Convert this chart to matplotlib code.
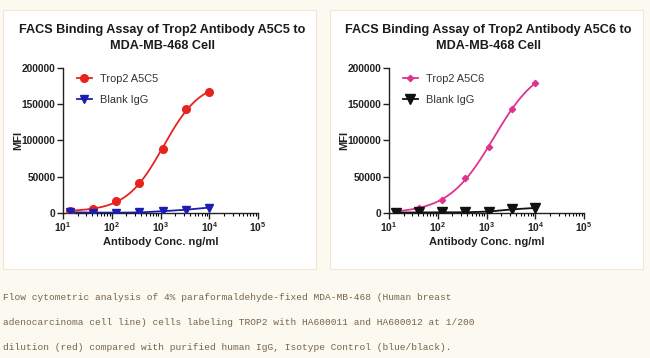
import numpy as np
import matplotlib
matplotlib.use("Agg")
import matplotlib.pyplot as plt
from matplotlib.patches import Rectangle
from matplotlib.ticker import FixedLocator, LogLocator, NullFormatter

plt.rcParams['font.family'] = ['Liberation Sans', 'DejaVu Sans']
plt.rcParams['mathtext.fontset'] = 'custom'
plt.rcParams['mathtext.rm'] = 'Liberation Sans'
plt.rcParams['mathtext.bf'] = 'Liberation Sans:bold'

# 농도 (3배 희석)
conc = [13.7, 41.2, 123.5, 370.4, 1111.1, 3333.3, 10000.0]

# A5C5
a5c5_mfi = [2500, 6000, 16000, 42000, 88000, 143000, 167000]
a5c5_igg = [1000, 600, 500, 800, 2500, 4500, 7500]

# A5C6
a5c6_mfi = [2500, 7000, 18000, 48000, 91000, 144000, 179000]
a5c6_igg = [500, 800, 900, 1000, 2000, 5000, 7000]

titles = ['FACS Binding Assay of Trop2 Antibody A5C5 to\nMDA-MB-468 Cell',
          'FACS Binding Assay of Trop2 Antibody A5C6 to\nMDA-MB-468 Cell']
labels_main = ['Trop2 A5C5', 'Trop2 A5C6']
caption = ['Flow cytometric analysis of 4% paraformaldehyde-fixed MDA-MB-468 (Human breast',
           'adenocarcinoma cell line) cells labeling TROP2 with HA600011 and HA600012 at 1/200',
           'dilution (red) compared with purified human IgG, Isotype Control (blue/black).']

BG = '#fcf9f1'
CAPTION_COLOR = '#74644a'


def fit_4pl(x, y):
    """4PL 피팅: EC50, hill 격자 탐색 + bottom/top 선형 최소제곱"""
    lx = np.log10(np.asarray(x, float))
    y = np.asarray(y, float)
    best = None
    for lec in np.linspace(2.0, 4.5, 251):
        for h in np.linspace(0.4, 2.5, 211):
            s = 1.0 / (1.0 + 10 ** ((lec - lx) * h))
            A = np.column_stack([np.ones_like(s), s])
            coef, res, _, _ = np.linalg.lstsq(A, y, rcond=None)
            err = np.sum((A @ coef - y) ** 2)
            if best is None or err < best[0]:
                best = (err, lec, h, coef)
    _, lec, h, coef = best

    def f(xx):
        s = 1.0 / (1.0 + 10 ** ((lec - np.log10(xx)) * h))
        return coef[0] + coef[1] * s
    return f


fig = plt.figure(figsize=(6.5, 3.58), dpi=100, facecolor=BG)

# 패널 배경 (흰색 박스)
for x0 in [3, 330]:
    fig.add_artist(Rectangle((x0 / 650, 1 - 269 / 358), 313 / 650, 259 / 358,
                             transform=fig.transFigure, facecolor='white',
                             edgecolor='#efe8d6', linewidth=0.8, zorder=-10))

panels = [
    (63, a5c5_mfi, a5c5_igg, '#e8231f', 'o', 5.5, '#1c1cb0', 'v', 6.0),
    (389, a5c6_mfi, a5c6_igg, '#e0338f', 'D', 3.2, '#111111', 'v', 6.5),
]

for i, (x0, mfi, igg, c1, m1, ms1, c2, m2, ms2) in enumerate(panels):
    ax = fig.add_axes([x0 / 650, 1 - 213 / 358, 195 / 650, 145 / 358])
    ax.set_facecolor('white')

    xs = np.logspace(np.log10(conc[0]), np.log10(conc[-1]), 200)
    f1 = fit_4pl(conc, mfi)
    ax.plot(xs, f1(xs), color=c1, lw=1.3, zorder=2)
    ax.plot(conc, mfi, linestyle='none', marker=m1, ms=ms1, color=c1, zorder=3)
    ax.plot([], [], color=c1, marker=m1, ms=ms1, lw=1.3, label=labels_main[i])

    ax.plot(conc, igg, color=c2, marker=m2, ms=ms2, lw=1.3, zorder=3, label='Blank IgG')

    ax.set_xscale('log')
    ax.set_xlim(10, 1e5)
    ax.set_ylim(0, 200000)
    ax.xaxis.set_major_locator(FixedLocator([10, 100, 1000, 1e4, 1e5]))
    ax.xaxis.set_minor_locator(LogLocator(base=10, subs=np.arange(2, 10)))
    ax.xaxis.set_minor_formatter(NullFormatter())
    ax.set_xticklabels([r'$\mathbf{10^{%d}}$' % k for k in range(1, 6)])
    ax.set_yticks([0, 50000, 100000, 150000, 200000])
    ax.set_yticklabels(['0', '50000', '100000', '150000', '200000'])

    for sp in ['top', 'right']:
        ax.spines[sp].set_visible(False)
    for sp in ['left', 'bottom']:
        ax.spines[sp].set_linewidth(1.0)
        ax.spines[sp].set_color('#222222')
    ax.tick_params(direction='out', length=4, width=1.0, colors='#222222',
                   labelsize=7.4, pad=1.5)
    ax.tick_params(which='minor', direction='out', length=2.5, width=0.8)
    for lab in ax.get_yticklabels():
        lab.set_fontweight('bold')

    ax.set_xlabel('Antibody Conc. ng/ml', fontsize=8, fontweight='bold',
                  color='#222222', labelpad=2)
    ax.set_ylabel('MFI', fontsize=8, fontweight='bold', color='#222222', labelpad=-1)
    ax.set_title(titles[i], fontsize=9.05, fontweight='bold', color='#1a1a1a',
                 pad=14, loc='center', x=0.51, linespacing=1.45)

    ax.legend(loc='upper left', bbox_to_anchor=(0.02, 1.025), frameon=False,
              fontsize=7.9, handlelength=1.4, handletextpad=0.7,
              labelspacing=0.95, labelcolor='#333333')

# 하단 설명 문구
for j, line in enumerate(caption):
    fig.text(3 / 650, 1 - (298 + 24.5 * j) / 358, line, fontsize=6.8,
             family=['Liberation Mono', 'DejaVu Sans Mono'], color=CAPTION_COLOR,
             va='center', ha='left')

fig.savefig('out.png', dpi=100, facecolor=BG)
